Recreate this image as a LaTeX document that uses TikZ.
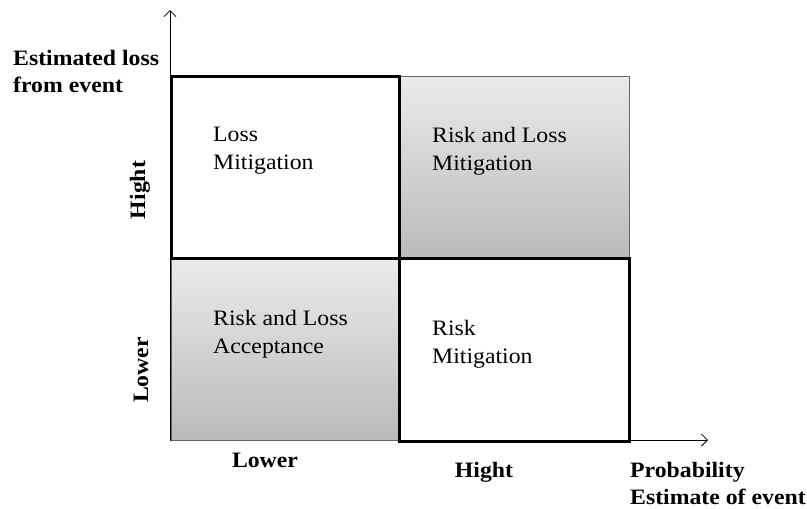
\documentclass[tikz,border=0pt]{standalone}
\usepackage{fontspec}
\setmainfont[FakeStretch=1.08]{Liberation Serif}
\usetikzlibrary{positioning,arrows.meta}
\tikzset{
  quad/.style={rectangle, inner sep=0pt, outer sep=0pt, anchor=north west, minimum width=228pt, minimum height=182pt},
  shadebox/.style={quad, draw=black!60, line width=0.9pt, top color=black!8, bottom color=black!27},
  whitebox/.style={quad, draw=black, line width=3pt, fill=white},
  boxtext/.style={inner sep=0pt, align=left, font=\fontsize{22}{28}\selectfont},
  axislabel/.style={inner sep=0pt, font=\fontsize{22}{27}\selectfont\bfseries},
  axis/.style={line width=0.8pt, -{Straight Barb[length=6pt,width=12pt]}}
}
\begin{document}
\begin{tikzpicture}[x=1pt,y=-1pt]
  \useasboundingbox (0,0) rectangle (807,509);
  \coordinate (o) at (170,440);
  \coordinate (ytip) at (170,10);
  \coordinate (xtip) at (708,440);
  \draw[axis] (o) -- (ytip);
  \draw[axis] (o) -- (xtip);

  \node[shadebox, minimum width=230pt] (hh) at (399,76) {};
  \node[shadebox] (ll) at (171,258) {};
  \node[whitebox] (lh) at (171,76) {};
  \node[whitebox, minimum width=230pt, minimum height=183pt] (hl) at (399,258) {};

  \node[boxtext, below right=51pt and 42pt of lh.north west] (lhtext) {Loss\\Mitigation};
  \node[boxtext, below right=51pt and 33pt of hh.north west] (hhtext) {Risk and Loss\\Mitigation};
  \node[boxtext, below right=52pt and 42pt of ll.north west] (lltext) {Risk and Loss\\Acceptance};
  \node[boxtext, below right=62pt and 33pt of hl.north west] (hltext) {Risk\\Mitigation};

  \node[axislabel, anchor=north west, align=left] (ylabel) at (13,50) {Estimated loss\\from event};
  \node[axislabel, anchor=north west, align=left] (xlabel) at (630,462) {Probability\\Estimate of event};
  \node[axislabel, anchor=base] (xlow) at (265,467) {Lower};
  \node[axislabel, anchor=base] (xhigh) at (484,477) {Hight};
  \node[axislabel, rotate=90] (yhigh) at (140,190) {Hight};
  \node[axislabel, rotate=90] (ylow) at (141,370) {Lower};
\end{tikzpicture}
\end{document}
